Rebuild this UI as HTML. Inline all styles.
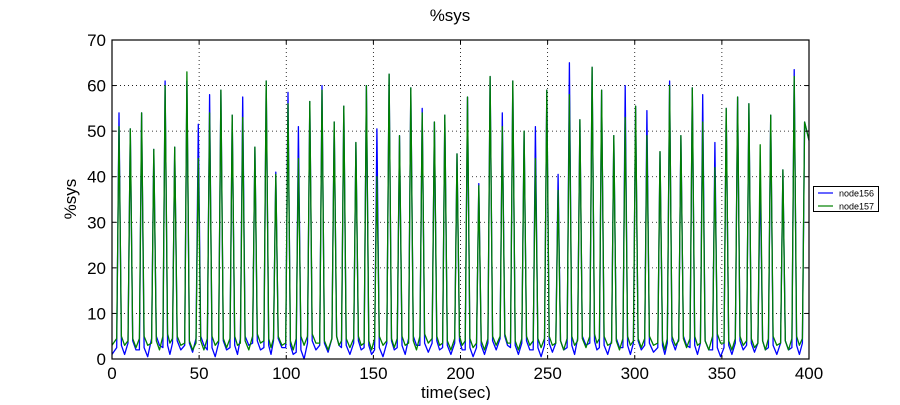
<!DOCTYPE html>
<html><head><meta charset="utf-8"><style>
body{margin:0;background:#fff;}
svg text{font-family:"Liberation Sans",sans-serif;}
</style></head><body>
<svg width="900" height="400" xmlns="http://www.w3.org/2000/svg">
<rect width="900" height="400" fill="#fff"/>
<text x="450" y="21" text-anchor="middle" font-size="17">%sys</text>
<g id="grid"></g>
<g id="series"></g>
<rect x="112" y="40" width="697" height="319" fill="none" stroke="#000" stroke-width="1.2"/>
<g id="ticks"></g>
<text x="456" y="398" text-anchor="middle" font-size="17">time(sec)</text>
<text transform="translate(76,199) rotate(-90)" text-anchor="middle" font-size="17">%sys</text>
<g>
<rect x="813.5" y="186.5" width="65" height="25" fill="#fff" stroke="#000"/>
<g><line x1="818" y1="193" x2="833" y2="193" stroke="#0000ff" stroke-width="1.2"/><text x="839" y="196.5" font-size="9">node156</text></g>
<g><line x1="818" y1="206" x2="833" y2="206" stroke="#008000" stroke-width="1.2"/><text x="839" y="209.5" font-size="9">node157</text></g>
</g>
</svg>
<script>
const peakTimes=[4,10.5,17,24,30.5,36,43,49.5,56,62.5,69,75,82,88.5,94,101,107,113.5,120.5,127.5,133,140,146,152,159,165,171.5,178,185,191,198,204,210.5,217,224,230,236.5,243,249.5,256,262.5,268.5,275.5,281,288,294.5,300.5,307,314.5,320,326.5,333,339,346,352.5,359,365.5,372,378,385,391.5,397.5];
const peaks156=[54,50.5,54,46,61,46.5,61,51.5,58,59,53.5,57.5,46.5,61,41,58.5,51,56.5,60,52,55.5,47.5,60,50.5,62.5,49,59.5,55,52,53.5,45,57.5,38.5,62,54,61,50,51,59,40.5,65,52.5,64,59,49,60,55.5,54.5,45.5,61,49,59.5,58,47.5,55,57.5,56,40,53.5,41.5,63.5,52];
const peaks157=[51,50.5,54,46,60,46.5,63,44,54,59,53.5,53,46.5,61,40.5,56,44,56.5,59,52,55.5,47.5,60,40,62.5,49,59.5,54,52,53.5,45,57.5,38,62,51,61,50,44,59,37,58,52.5,64,59,49,53,55.5,49,45.5,60,49,59.5,52,42,55,57.5,56,47,53.5,41.5,62,52];
const lows156=[1,2,0.5,3,1,2,1.5,3,0.5,2,1,3,2,1,2.5,1,0,2,1.5,3,1,2,1,0.5,2,1,3,1.5,2,1,2,0.5,1,2,3,1,2,0.5,1.5,2,1,3,2,1,2.5,1,2,1.5,1,2,3,1,2,0.5,1,2,1.5,2,1,2,1,2];
const lows157=[3,2.5,3,2,3.5,3,2,2,3,2.5,3,2,3.5,2.5,3,2,3,3.5,2,3,2.5,3,2,3,2.5,3,2,3.5,3,2,3,2.5,2,3,3.5,2,3,2.5,3,2,3,2.5,3.5,3,2,3,2.5,3,2,3,2.5,3,2,3.5,2,3,2.5,2,3,2,3,3];
const xTicks=[0,50,100,150,200,250,300,350,400];
const yTicks=[0,10,20,30,40,50,60,70];
const X=t=>112+t*697/400, Y=v=>359-v*319/70;
const NS="http://www.w3.org/2000/svg";
const grid=document.getElementById('grid'),ticks=document.getElementById('ticks'),ser=document.getElementById('series');
function mk(tag,attrs,parent){const e=document.createElementNS(NS,tag);for(const k in attrs)e.setAttribute(k,attrs[k]);parent.appendChild(e);return e;}
xTicks.forEach(v=>{
 const x=X(v);
 if(v>0&&v<400){const g=mk('line',{x1:x,y1:40,x2:x,y2:359,stroke:'#000','stroke-dasharray':'1,3','stroke-width':0.8},grid);
 
 }
 mk('line',{x1:x,y1:359,x2:x,y2:355,stroke:'#000'},ticks);
 mk('line',{x1:x,y1:40,x2:x,y2:44,stroke:'#000'},ticks);
 const t=mk('text',{x:x,y:379,'text-anchor':'middle','font-size':17},ticks);t.textContent=v;
 
 
});
yTicks.forEach(v=>{
 const y=Y(v);
 if(v>0&&v<70){const g=mk('line',{x1:112,y1:y,x2:809,y2:y,stroke:'#000','stroke-dasharray':'1,3','stroke-width':0.8},grid);
 
 }
 mk('line',{x1:112,y1:y,x2:116,y2:y,stroke:'#000'},ticks);
 mk('line',{x1:809,y1:y,x2:805,y2:y,stroke:'#000'},ticks);
 const t=mk('text',{x:106,y:y+6,'text-anchor':'end','font-size':17},ticks);t.textContent=v;
 
 
});
function series(peaks,lows,color,name){
 const pts=[[0,lows[0]]];
 for(let i=0;i<peakTimes.length;i++){
  const t=peakTimes[i];
  pts.push([Math.max(t-1.3,0.1),lows[i]+1.5]);
  pts.push([t,peaks[i]]);
  if(i<peakTimes.length-1){
   pts.push([t+1.4,lows[i]+2]);
   const nt=peakTimes[i+1];
   pts.push([(t+nt)/2,lows[i]]);
  } else pts.push([400,peaks[i]-4]);
 }
 const d=pts.map((p,i)=>(i?'L':'M')+X(p[0]).toFixed(1)+','+Y(p[1]).toFixed(1)).join('');
 const p=mk('path',{d:d,fill:'none',stroke:color,'stroke-width':1.3,'stroke-linejoin':'round'},ser);
 
 
}
series(peaks156,lows156,'#0000ff','line-node156');
series(peaks157,lows157,'#008000','line-node157');
</script>
</body></html>
